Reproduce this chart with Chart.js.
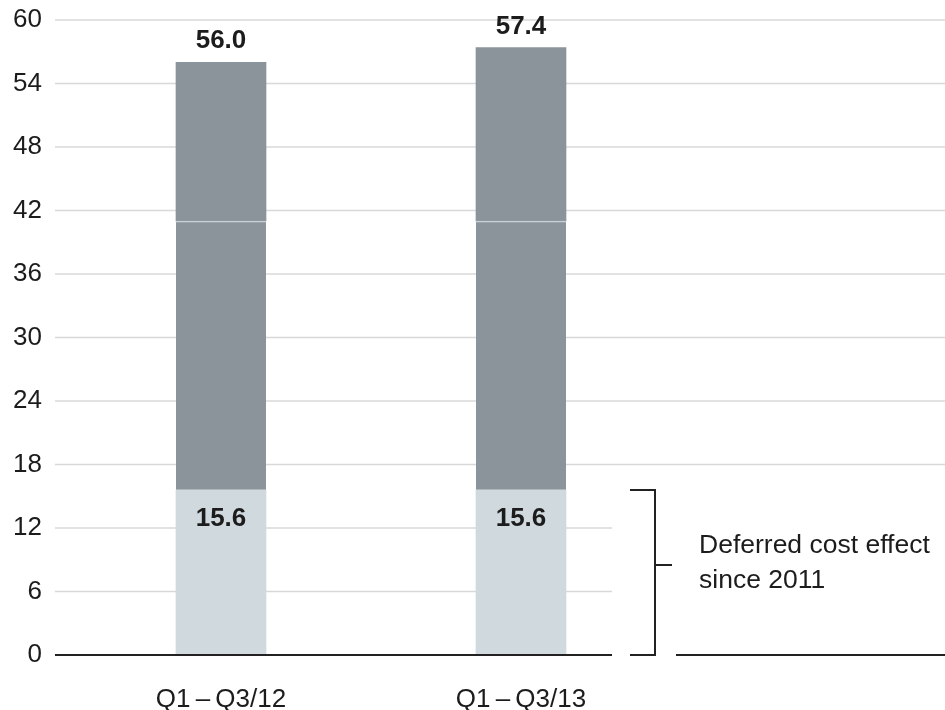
<!DOCTYPE html>
<html>
<head>
<meta charset="utf-8">
<script src="https://cdn.jsdelivr.net/npm/chart.js@4/dist/chart.umd.min.js"></script>
<style>
  html, body { margin: 0; padding: 0; background: #fff; }
  #wrap { width: 945px; height: 710px; position: relative; }
</style>
</head>
<body>
<div id="wrap"><canvas id="grafico"></canvas></div>
<script>
const categorias = ["Q1\u2009\u2013\u2009Q3/12", "Q1\u2009\u2013\u2009Q3/13"];
const totais = [56.0, 57.4];
const diferido = [15.6, 15.6];
const emenda = [41.0, 41.0]; // thin seam inside the dark segment
const yTicks = [0, 6, 12, 18, 24, 30, 36, 42, 48, 54, 60];
const notaLinhas = ["Deferred cost effect", "since 2011"];

const FONTE = "'Liberation Sans', Arial, sans-serif";
const TEXTO = "#1c1c1c";

const pontos = (vals) => vals.map((v, i) => ({ x: i + 1, y: v }));
const meio = emenda.map((e, i) => e - diferido[i]);
const topo = totais.map((t, i) => t - emenda[i]);

const overlay = {
  id: "overlay",
  beforeDatasetsDraw(chart) {
    const { ctx, chartArea, scales: { y } } = chart;
    const corte = 612;
    ctx.save();
    ctx.strokeStyle = "#d8d8d8";
    ctx.lineWidth = 1.5;
    yTicks.forEach((v) => {
      if (v === 0) return;
      const py = y.getPixelForValue(v);
      const fim = v <= diferido[0] ? corte : chartArea.right;
      ctx.beginPath();
      ctx.moveTo(chartArea.left, py);
      ctx.lineTo(fim, py);
      ctx.stroke();
    });
    ctx.restore();
  },
  afterDatasetsDraw(chart) {
    const { ctx, chartArea, scales: { x, y } } = chart;
    ctx.save();

    // valores das barras
    ctx.fillStyle = TEXTO;
    ctx.font = "bold 26px " + FONTE;
    ctx.textAlign = "center";
    ctx.textBaseline = "alphabetic";
    categorias.forEach((_, i) => {
      const px = x.getPixelForValue(i + 1);
      ctx.fillText(totais[i].toFixed(1), px, y.getPixelForValue(totais[i]) - 14);
      ctx.fillText(diferido[i].toFixed(1), px, y.getPixelForValue(diferido[i]) + 36);
    });

    // linha base com interrupções
    const y0 = y.getPixelForValue(0);
    const yTop = y.getPixelForValue(diferido[0]);
    const bx = 655;
    ctx.strokeStyle = "#222";
    ctx.lineWidth = 2;
    ctx.beginPath();
    ctx.moveTo(chartArea.left, y0);
    ctx.lineTo(612, y0);
    ctx.moveTo(676, y0);
    ctx.lineTo(chartArea.right, y0);
    ctx.stroke();

    // chave
    const yMeio = y.getPixelForValue(8.5);
    ctx.beginPath();
    ctx.moveTo(630, yTop);
    ctx.lineTo(bx, yTop);
    ctx.lineTo(bx, y0);
    ctx.lineTo(630, y0);
    ctx.moveTo(bx, yMeio);
    ctx.lineTo(672, yMeio);
    ctx.stroke();

    ctx.font = "26.5px " + FONTE;
    ctx.textAlign = "left";
    ctx.fillText(notaLinhas[0], 699, yMeio - 12);
    ctx.fillText(notaLinhas[1], 699, yMeio + 23);
    ctx.restore();
  }
};

new Chart(document.getElementById("grafico").getContext("2d"), {
  type: "bar",
  data: {
    datasets: [
      {
        label: "Deferred",
        data: pontos(diferido),
        backgroundColor: "#d0d9dd",
        barThickness: 90
      },
      {
        label: "Middle",
        data: pontos(meio),
        backgroundColor: "#8b949b",
        borderColor: "#c9d1d6",
        borderWidth: { top: 1.5, right: 0, bottom: 0, left: 0 },
        borderSkipped: "start",
        barThickness: 90
      },
      {
        label: "Top",
        data: pontos(topo),
        backgroundColor: "#8b949b",
        barThickness: 90
      }
    ]
  },
  options: {
    responsive: true,
    maintainAspectRatio: false,
    animation: false,
    layout: { padding: { top: 20, right: 0, left: 0, bottom: 0 } },
    plugins: { legend: { display: false }, tooltip: { enabled: false } },
    scales: {
      x: {
        type: "linear",
        stacked: true,
        offset: false,
        min: 1 - 166 / 300,
        max: 1 - 166 / 300 + 890 / 300,
        grid: { display: false, drawTicks: false },
        border: { display: false },
        afterFit: (s) => { s.height = 55; s.paddingLeft = 0; s.paddingRight = 0; },
        ticks: {
          stepSize: 1,
          includeBounds: false,
          autoSkip: false,
          maxRotation: 0,
          padding: 29,
          color: TEXTO,
          font: { family: FONTE, size: 26 },
          callback: (v) => categorias[v - 1] ?? ""
        }
      },
      y: {
        stacked: true,
        min: 0,
        max: 60,
        grid: { display: false, drawTicks: false },
        border: { display: false },
        afterFit: (s) => { s.width = 55; s.paddingTop = 0; s.paddingBottom = 0; },
        ticks: {
          stepSize: 6,
          padding: 13,
          color: TEXTO,
          font: { family: FONTE, size: 26 }
        }
      }
    }
  },
  plugins: [overlay]
});
</script>
</body>
</html>
